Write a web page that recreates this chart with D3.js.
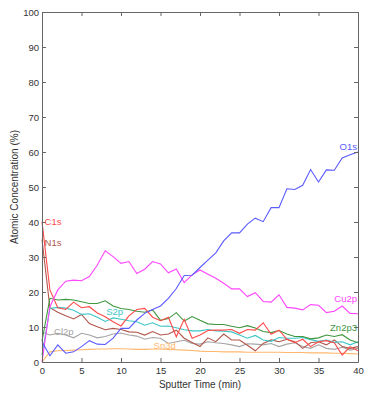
<!DOCTYPE html>
<html>
<head>
<meta charset="utf-8">
<script src="https://cdn.jsdelivr.net/npm/d3@7"></script>
<style>
  body { margin: 0; background: #fff; }
  svg text { font-family: "Liberation Sans", Arial, sans-serif; }
</style>
</head>
<body>
<div id="contents"></div>
<script>
// sputter time, one reading per minute
var times = d3.range(0, 41);

var O1s   = [5.8, 1.8, 4.9, 2.5, 2.9, 4.4, 6.1, 5.1, 5.0, 6.8, 9.6, 9.6, 12.0, 13.9, 15.0, 16.0, 18.2, 21.0, 24.7, 24.8, 27.0, 29.1, 31.2, 34.6, 36.9, 36.9, 39.4, 41.1, 40.1, 44.1, 44.1, 49.5, 49.3, 50.5, 55.0, 51.4, 54.9, 54.8, 58.3, 59.2, 60.0];
var Cu2p  = [0, 15.8, 20.6, 23.1, 23.4, 23.2, 24.4, 27.7, 31.8, 30.1, 28.2, 28.7, 25.3, 26.5, 28.7, 28.0, 25.5, 26.6, 22.7, 24.9, 26.3, 25.1, 23.9, 22.5, 20.9, 20.9, 18.7, 19.8, 17.3, 17.1, 19.2, 15.6, 15.4, 14.9, 16.4, 16.2, 14.1, 14.5, 16.0, 13.9, 13.8];
var Zn2p3 = [6.0, 18.2, 17.7, 17.9, 17.7, 17.2, 16.7, 16.7, 17.5, 16.0, 15.3, 15.0, 14.5, 14.2, 14.9, 11.9, 12.4, 14.1, 11.7, 13.0, 11.9, 10.9, 10.7, 10.7, 10.2, 9.8, 10.4, 9.7, 8.7, 8.4, 9.0, 8.0, 7.3, 7.3, 6.6, 6.9, 7.7, 7.3, 7.8, 6.3, 5.5];
var S2p   = [2.0, 15.3, 15.6, 15.4, 14.8, 13.6, 13.8, 12.8, 11.6, 12.6, 12.2, 11.8, 11.5, 10.5, 11.2, 10.2, 10.3, 9.8, 9.2, 8.9, 8.9, 9.3, 8.9, 8.8, 8.6, 7.7, 6.8, 7.6, 6.3, 5.9, 7.0, 6.8, 6.8, 7.0, 6.4, 5.9, 6.3, 5.6, 5.8, 4.9, 5.8];
var Cl2p  = [8.5, 7.7, 8.2, 7.7, 6.9, 8.2, 7.7, 6.9, 7.3, 8.0, 8.3, 7.7, 7.4, 6.5, 7.0, 6.8, 5.3, 5.8, 6.2, 5.3, 5.1, 5.8, 5.5, 5.3, 4.9, 4.4, 5.2, 5.1, 4.9, 5.3, 4.4, 5.1, 5.5, 4.4, 3.9, 4.9, 3.9, 3.6, 4.2, 3.4, 3.9];
var Sn3d  = [0, 2.9, 3.2, 3.3, 3.4, 3.5, 3.6, 3.7, 3.7, 3.8, 3.8, 3.7, 3.6, 3.6, 3.7, 3.7, 3.6, 3.5, 3.4, 3.3, 3.1, 3.0, 3.0, 2.9, 2.9, 2.9, 2.8, 2.8, 2.8, 2.8, 2.8, 2.7, 2.7, 2.7, 2.6, 2.6, 2.6, 2.5, 2.5, 2.4, 2.3];
var C1s   = [40.1, 20.6, 15.5, 15.0, 17.1, 15.5, 15.8, 14.0, 12.9, 11.5, 10.3, 13.2, 15.0, 15.3, 12.8, 11.8, 12.8, 7.2, 12.2, 6.8, 7.7, 9.0, 9.1, 9.1, 9.3, 8.2, 9.3, 9.1, 11.2, 7.9, 9.1, 6.5, 5.5, 6.5, 4.4, 5.8, 6.1, 5.5, 2.0, 4.4, 3.2];
var N1s   = [35.0, 15.5, 14.2, 13.2, 12.3, 13.6, 11.0, 10.1, 9.2, 9.6, 9.3, 8.6, 8.5, 7.7, 8.7, 7.7, 8.0, 9.1, 6.8, 5.6, 4.4, 6.9, 5.8, 8.0, 6.3, 6.3, 4.8, 3.2, 5.3, 6.3, 5.8, 6.5, 5.8, 3.9, 5.5, 5.8, 4.9, 6.3, 4.4, 3.9, 4.4];

var seriesNames = ["Sn3d", "Cl2p", "N1s", "S2p", "Zn2p3", "C1s", "Cu2p", "O1s"];
var seriesValues = [Sn3d, Cl2p, N1s, S2p, Zn2p3, C1s, Cu2p, O1s];
var xTicks = [0, 5, 10, 15, 20, 25, 30, 35, 40];
var yTicks = [0, 10, 20, 30, 40, 50, 60, 70, 80, 90, 100];

var colors = {
  O1s: "#5b5bff", Cu2p: "#ff44ff", Zn2p3: "#3f963f", S2p: "#3cc6c6",
  Cl2p: "#a4a4a4", Sn3d: "#ffb76e", C1s: "#ff4a4a", N1s: "#b0564a"
};

// where each name label sits, in data units
var labelSpots = [
  {name: "O1s",   t: 40,  v: 61.5, anchor: "end"},
  {name: "Cu2p",  t: 40,  v: 18.0, anchor: "end"},
  {name: "Zn2p3", t: 40,  v: 9.7,  anchor: "end"},
  {name: "C1s",   t: 0.2, v: 40.0, anchor: "start"},
  {name: "N1s",   t: 0.2, v: 34.0, anchor: "start"},
  {name: "Cl2p",  t: 1.4, v: 8.6,  anchor: "start"},
  {name: "S2p",   t: 8.0, v: 14.3, anchor: "start"},
  {name: "Sn3d",  t: 14.0, v: 4.6, anchor: "start"}
];

var width = 375, height = 397;
var x = d3.scaleLinear().domain([0, 40]).range([42, 358]);
var y = d3.scaleLinear().domain([0, 100]).range([362, 12]);

var svg = d3.select("#contents").append("svg")
  .attr("width", width).attr("height", height);

var line = d3.line()
  .x(function(d){ return x(d[0]); })
  .y(function(d){ return y(d[1]); });

var plot = svg.append("g");
seriesNames.forEach(function(name, i){
  var pts = times.map(function(t, j){ return [t, seriesValues[i][j]]; });
  plot.append("path")
    .attr("d", line(pts))
    .attr("fill", "none")
    .attr("stroke", colors[name])
    .attr("stroke-width", 1.1);
});

// axes with inward ticks, box on all four sides
function styleAxis(g){
  g.select(".domain").attr("stroke", "#666");
  g.selectAll(".tick line").attr("stroke", "#666");
  g.selectAll(".tick text").attr("fill", "#333").attr("font-size", "9.5px");
}

svg.append("g").attr("transform", "translate(0,362)")
  .call(d3.axisBottom(x).tickValues(xTicks).tickFormat(d3.format("d"))
    .tickSizeInner(-4).tickSizeOuter(0).tickPadding(5))
  .call(styleAxis);
svg.append("g").attr("transform", "translate(42,0)")
  .call(d3.axisLeft(y).tickValues(yTicks).tickFormat(d3.format("d"))
    .tickSizeInner(-4).tickSizeOuter(0).tickPadding(3))
  .call(styleAxis);
svg.append("g").attr("transform", "translate(0,12)")
  .call(d3.axisTop(x).tickValues(xTicks).tickFormat("")
    .tickSizeInner(-4).tickSizeOuter(0))
  .call(styleAxis);
svg.append("g").attr("transform", "translate(358,0)")
  .call(d3.axisRight(y).tickValues(yTicks).tickFormat("")
    .tickSizeInner(-4).tickSizeOuter(0))
  .call(styleAxis);

// series name labels
svg.selectAll(".lbl").data(labelSpots).enter()
  .append("text")
    .attr("class", "lbl")
    .attr("x", function(d){ return x(d.t) + (d.anchor == "end" ? -1 : 1); })
    .attr("y", function(d){ return y(d.v); })
    .attr("dy", "0.35em")
    .attr("text-anchor", function(d){ return d.anchor; })
    .attr("font-size", "9.5px")
    .attr("fill", function(d){ return colors[d.name]; })
    .text(function(d){ return d.name; });

svg.append("text")
  .attr("x", (x(0) + x(40)) / 2).attr("y", 388)
  .attr("text-anchor", "middle").attr("font-size", "10px").attr("fill", "#333")
  .text("Sputter Time (min)");

svg.append("text")
  .attr("transform", "translate(18," + ((y(0) + y(100)) / 2) + ") rotate(-90)")
  .attr("text-anchor", "middle").attr("font-size", "10px").attr("fill", "#333")
  .text("Atomic Concentration (%)");
</script>
</body>
</html>
